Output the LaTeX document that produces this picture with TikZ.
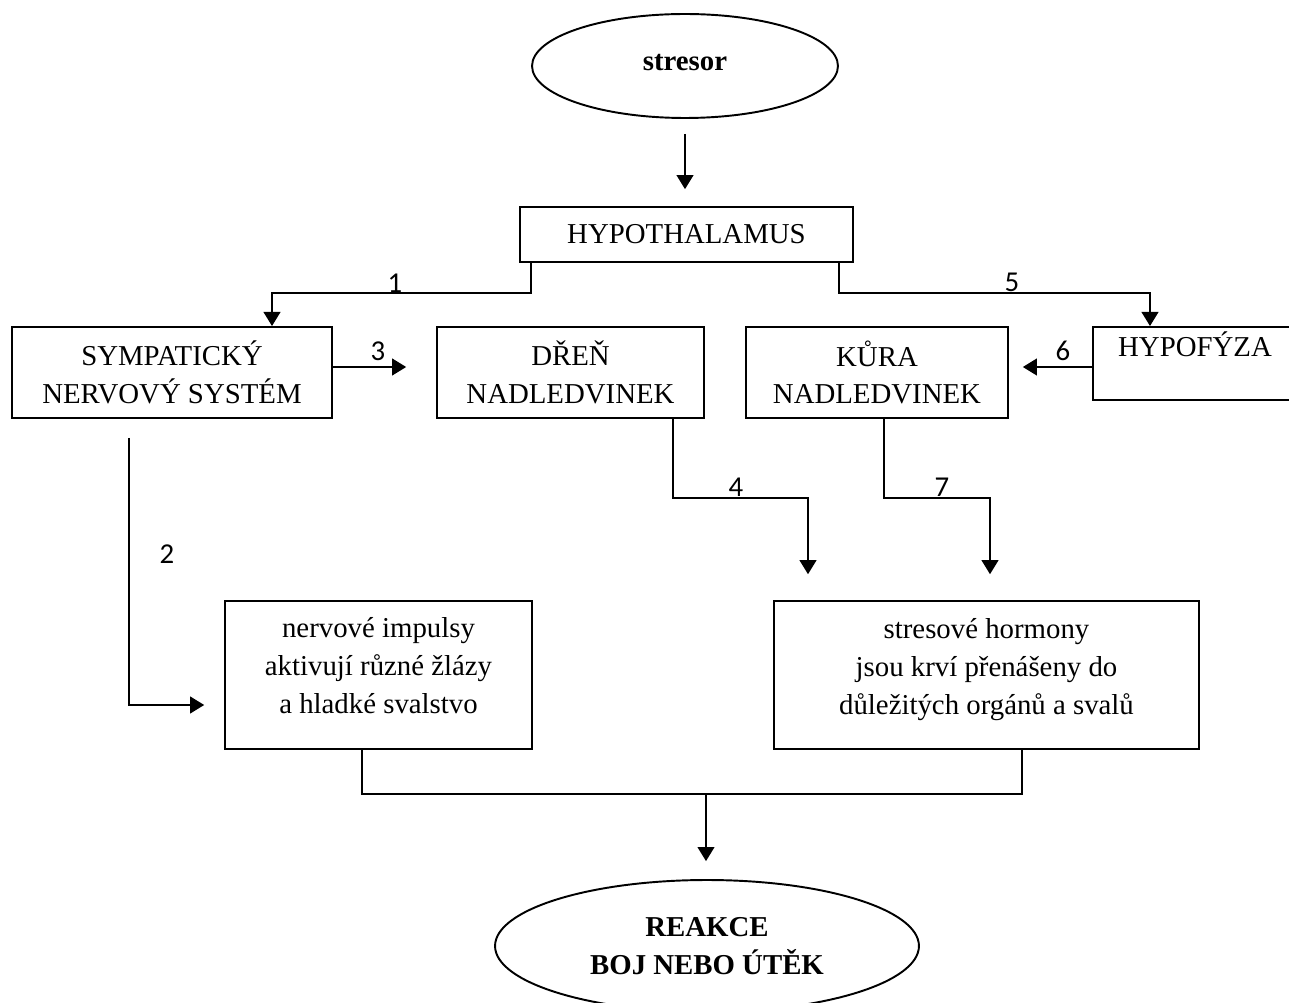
\documentclass[tikz,border=0pt]{standalone}
\usepackage{fontspec}
\setmainfont{Liberation Serif}
\newfontfamily\numfont{Carlito}
\usetikzlibrary{shapes.geometric,arrows.meta}
\newcommand\diafont{\fontsize{16.4}{21.5}\selectfont}
\newcommand\lowpad[1]{\rule[-#1]{0pt}{0pt}}
\tikzset{
  box/.style={draw=black,line width=1.1pt,align=center,inner sep=0pt,font=\diafont},
  oval/.style={ellipse,draw=black,line width=1.1pt,align=center,inner sep=0pt,font=\diafont\bfseries},
  num/.style={inner sep=1pt,font=\numfont\diafont},
  conn/.style={draw=black,line width=1.1pt},
  arr/.style={conn,-{Triangle[length=8pt,width=9.5pt]}},
}

\begin{document}
\begin{tikzpicture}[x=0.02cm,y=-0.02cm]
\useasboundingbox (0,0) rectangle (1289,1003);
\clip (0,0) rectangle (1289,1003);
\fill[white] (0,0) rectangle (1289,1003);
% nodes
\node[oval,minimum width=6.12cm,minimum height=2.08cm] (stresor) at (685,66) {stresor\lowpad{4.5pt}};
\node[box,minimum width=6.66cm,minimum height=1.1cm] (hyp) at (686.5,234.5) {HYPOTHALAMUS};
\node[box,minimum width=6.4cm,minimum height=1.82cm] (symp) at (172,372.5) {SYMPATICKÝ\\NERVOVÝ SYSTÉM};
\node[box,minimum width=5.34cm,minimum height=1.82cm] (dren) at (570.5,372.5) {DŘEŇ\\NADLEDVINEK};
\node[box,minimum width=5.24cm,minimum height=1.82cm] (kura) at (877,372.5) {KŮRA\\NADLEDVINEK};
\node[box,minimum width=4.08cm,minimum height=1.46cm] (hypo) at (1195,363.5) {HYPOFÝZA\\\mbox{}};
\node[box,minimum width=6.14cm,minimum height=2.96cm] (nerv) at (378.5,675) {nervové impulsy\\aktivují různé žlázy\\a hladké svalstvo\lowpad{11pt}};
\node[box,minimum width=8.5cm,minimum height=2.96cm] (stres) at (986.5,675) {stresové hormony\\jsou krví přenášeny do\\důležitých orgánů a svalů\lowpad{9.5pt}};
\node[oval,minimum width=8.48cm,minimum height=2.64cm] (reakce) at (707,946) {REAKCE\\BOJ NEBO ÚTĚK};
% bends
\coordinate (b1) at (272,293);
\coordinate (b5) at (1150,293);
\coordinate (b4) at (808,498);
\coordinate (b7) at (990,498);
\coordinate (m) at (706,794);
% connectors
\draw[arr,shorten <=8.5pt,shorten >=9.6pt] (stresor.south) -- (stresor.south |- hyp.north);
\draw[arr] ([xshift=0.24cm]hyp.south west) |- (b1) -- (b1 |- symp.north);
\draw[arr] ([xshift=-0.3cm]hyp.south east) |- (b5) -- (b5 |- hypo.north);
\draw[arr,shorten >=17pt] ([yshift=0.11cm]symp.east) -- ([yshift=0.11cm]dren.west);
\draw[arr,shorten >=7.9pt] ([yshift=-0.07cm]hypo.west) -- ([yshift=0.11cm]kura.east);
\draw[arr,shorten >=11.3pt] ([xshift=-0.86cm,yshift=-0.38cm]symp.south) |- ([yshift=-0.6cm]nerv.west);
\draw[arr,shorten >=14.7pt] ([xshift=2.05cm]dren.south) |- (b4) -- (b4 |- stres.north);
\draw[arr,shorten >=14.7pt] ([xshift=0.14cm]kura.south) |- (b7) -- (b7 |- stres.north);
\draw[conn] ([xshift=-0.33cm]nerv.south) |- (m) -| ([xshift=0.71cm]stres.south);
\draw[arr,shorten >=10.2pt] (m) -- (m |- reakce.north);
% step numbers
\node[num] (n1) at (395,283) {1};
\node[num] (n2) at (167,554) {2};
\node[num] (n3) at (378,351) {3};
\node[num] (n4) at (736,487) {4};
\node[num] (n5) at (1012,282) {5};
\node[num] (n6) at (1063,351) {6};
\node[num] (n7) at (942,487) {7};
\end{tikzpicture}
\end{document}
